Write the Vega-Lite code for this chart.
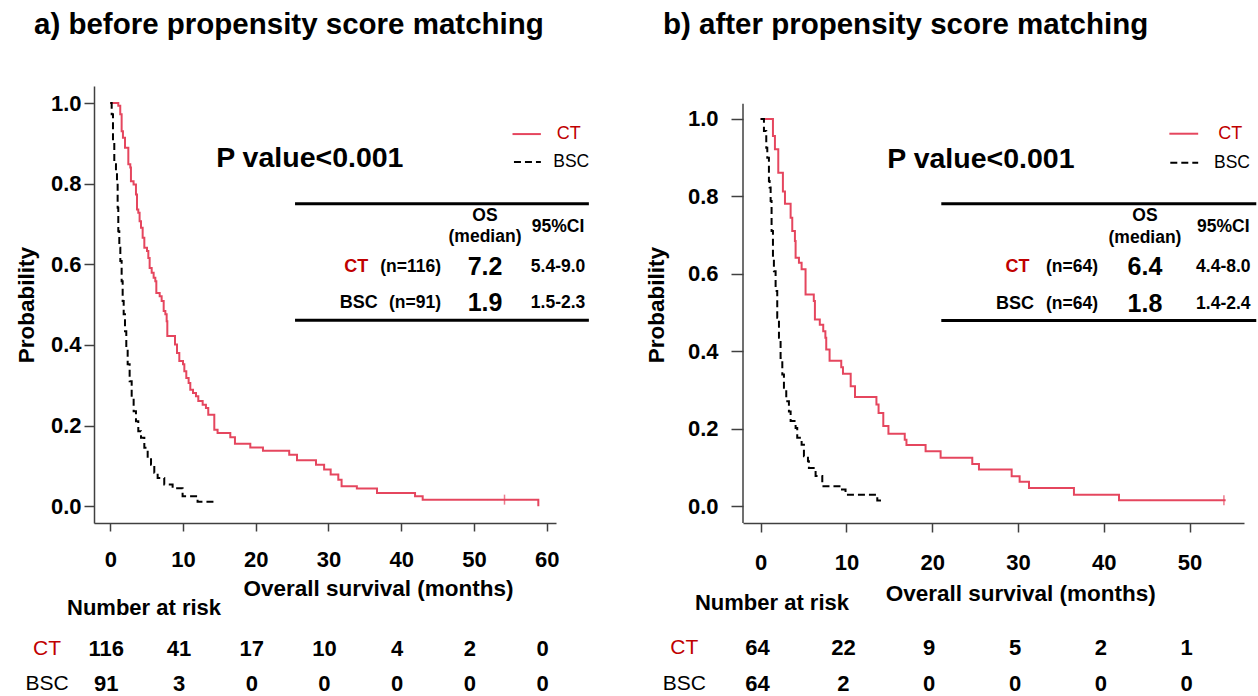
{
  "$schema": "https://vega.github.io/schema/vega-lite/v6.json",
  "background": "white",
  "padding": {"left": 15, "top": 9, "right": 0, "bottom": 0},
  "spacing": 54,
  "config": {
    "font": "Liberation Sans",
    "view": {"stroke": null},
    "title": {"font": "Liberation Sans", "fontSize": 29.5, "fontWeight": "bold", "color": "black"},
    "axis": {"grid": false, "domainColor": "#404040", "domainWidth": 1.5, "tickColor": "#404040", "tickWidth": 1.5,
      "labelFont": "Liberation Sans", "labelFontSize": 22, "labelFontWeight": "bold", "labelColor": "black",
      "titleFont": "Liberation Sans", "titleFontSize": 22.5, "titleFontWeight": "bold", "titleColor": "black",
      "labelFlush": false, "labelOverlap": false},
    "text": {"font": "Liberation Sans", "color": "black"}
  },
  "datasets": {
    "one": [{}],
    "kmA": [
      {"group": "CT", "time": 0, "surv": 1.0},
      {"group": "CT", "time": 1.1, "surv": 0.993},
      {"group": "CT", "time": 1.37, "surv": 0.972},
      {"group": "CT", "time": 1.56, "surv": 0.93},
      {"group": "CT", "time": 1.74, "surv": 0.914},
      {"group": "CT", "time": 2.02, "surv": 0.889},
      {"group": "CT", "time": 2.48, "surv": 0.848},
      {"group": "CT", "time": 2.75, "surv": 0.84},
      {"group": "CT", "time": 2.84, "surv": 0.806},
      {"group": "CT", "time": 3.2, "surv": 0.798},
      {"group": "CT", "time": 3.53, "surv": 0.773},
      {"group": "CT", "time": 3.67, "surv": 0.736},
      {"group": "CT", "time": 3.85, "surv": 0.728},
      {"group": "CT", "time": 4.03, "surv": 0.707},
      {"group": "CT", "time": 4.22, "surv": 0.691},
      {"group": "CT", "time": 4.45, "surv": 0.666},
      {"group": "CT", "time": 4.68, "surv": 0.641},
      {"group": "CT", "time": 5.05, "surv": 0.633},
      {"group": "CT", "time": 5.23, "surv": 0.616},
      {"group": "CT", "time": 5.41, "surv": 0.591},
      {"group": "CT", "time": 5.69, "surv": 0.579},
      {"group": "CT", "time": 5.96, "surv": 0.567},
      {"group": "CT", "time": 6.19, "surv": 0.558},
      {"group": "CT", "time": 6.33, "surv": 0.529},
      {"group": "CT", "time": 6.79, "surv": 0.521},
      {"group": "CT", "time": 7.06, "surv": 0.509},
      {"group": "CT", "time": 7.34, "surv": 0.484},
      {"group": "CT", "time": 7.57, "surv": 0.476},
      {"group": "CT", "time": 7.75, "surv": 0.459},
      {"group": "CT", "time": 7.84, "surv": 0.422},
      {"group": "CT", "time": 8.9, "surv": 0.401},
      {"group": "CT", "time": 9.17, "surv": 0.38},
      {"group": "CT", "time": 9.49, "surv": 0.36},
      {"group": "CT", "time": 10.0, "surv": 0.352},
      {"group": "CT", "time": 10.18, "surv": 0.335},
      {"group": "CT", "time": 10.45, "surv": 0.318},
      {"group": "CT", "time": 10.77, "surv": 0.306},
      {"group": "CT", "time": 11.0, "surv": 0.289},
      {"group": "CT", "time": 11.37, "surv": 0.281},
      {"group": "CT", "time": 11.78, "surv": 0.273},
      {"group": "CT", "time": 12.1, "surv": 0.261},
      {"group": "CT", "time": 12.7, "surv": 0.252},
      {"group": "CT", "time": 13.15, "surv": 0.244},
      {"group": "CT", "time": 13.47, "surv": 0.227},
      {"group": "CT", "time": 14.3, "surv": 0.19},
      {"group": "CT", "time": 14.75, "surv": 0.182},
      {"group": "CT", "time": 16.5, "surv": 0.171},
      {"group": "CT", "time": 17.14, "surv": 0.155},
      {"group": "CT", "time": 19.25, "surv": 0.146},
      {"group": "CT", "time": 20.99, "surv": 0.138},
      {"group": "CT", "time": 24.6, "surv": 0.128},
      {"group": "CT", "time": 25.67, "surv": 0.114},
      {"group": "CT", "time": 28.28, "surv": 0.103},
      {"group": "CT", "time": 29.4, "surv": 0.091},
      {"group": "CT", "time": 30.3, "surv": 0.079},
      {"group": "CT", "time": 31.35, "surv": 0.066},
      {"group": "CT", "time": 31.8, "surv": 0.05},
      {"group": "CT", "time": 33.9, "surv": 0.044},
      {"group": "CT", "time": 36.67, "surv": 0.033},
      {"group": "CT", "time": 41.9, "surv": 0.025},
      {"group": "CT", "time": 42.95, "surv": 0.0165},
      {"group": "CT", "time": 58.85, "surv": 0.0},
      {"group": "BSC", "time": 0, "surv": 1.0},
      {"group": "BSC", "time": 0.19, "surv": 0.972},
      {"group": "BSC", "time": 0.37, "surv": 0.906},
      {"group": "BSC", "time": 0.55, "surv": 0.848},
      {"group": "BSC", "time": 0.78, "surv": 0.831},
      {"group": "BSC", "time": 0.92, "surv": 0.806},
      {"group": "BSC", "time": 1.01, "surv": 0.74},
      {"group": "BSC", "time": 1.1, "surv": 0.682},
      {"group": "BSC", "time": 1.24, "surv": 0.641},
      {"group": "BSC", "time": 1.38, "surv": 0.608},
      {"group": "BSC", "time": 1.56, "surv": 0.558},
      {"group": "BSC", "time": 1.7, "surv": 0.509},
      {"group": "BSC", "time": 1.84, "surv": 0.476},
      {"group": "BSC", "time": 2.02, "surv": 0.434},
      {"group": "BSC", "time": 2.2, "surv": 0.393},
      {"group": "BSC", "time": 2.39, "surv": 0.352},
      {"group": "BSC", "time": 2.66, "surv": 0.31},
      {"group": "BSC", "time": 2.94, "surv": 0.269},
      {"group": "BSC", "time": 3.21, "surv": 0.236},
      {"group": "BSC", "time": 3.53, "surv": 0.211},
      {"group": "BSC", "time": 3.85, "surv": 0.186},
      {"group": "BSC", "time": 4.22, "surv": 0.17},
      {"group": "BSC", "time": 4.68, "surv": 0.145},
      {"group": "BSC", "time": 5.14, "surv": 0.12},
      {"group": "BSC", "time": 5.6, "surv": 0.103},
      {"group": "BSC", "time": 6.05, "surv": 0.083},
      {"group": "BSC", "time": 6.51, "surv": 0.07},
      {"group": "BSC", "time": 7.42, "surv": 0.054},
      {"group": "BSC", "time": 8.57, "surv": 0.045},
      {"group": "BSC", "time": 9.94, "surv": 0.025},
      {"group": "BSC", "time": 12.0, "surv": 0.011},
      {"group": "BSC", "time": 14.3, "surv": 0.011}
    ],
    "censA": [{"group": "CT", "time": 54.2, "surv": 0.0165}],
    "riskA": [
      {"group": "CT", "time": 0, "n": 116}, {"group": "CT", "time": 10, "n": 41}, {"group": "CT", "time": 20, "n": 17},
      {"group": "CT", "time": 30, "n": 10}, {"group": "CT", "time": 40, "n": 4}, {"group": "CT", "time": 50, "n": 2},
      {"group": "CT", "time": 60, "n": 0},
      {"group": "BSC", "time": 0, "n": 91}, {"group": "BSC", "time": 10, "n": 3}, {"group": "BSC", "time": 20, "n": 0},
      {"group": "BSC", "time": 30, "n": 0}, {"group": "BSC", "time": 40, "n": 0}, {"group": "BSC", "time": 50, "n": 0},
      {"group": "BSC", "time": 60, "n": 0}
    ],
    "kmB": [
      {"group": "CT", "time": 0, "surv": 1.0},
      {"group": "CT", "time": 1.44, "surv": 0.956},
      {"group": "CT", "time": 1.67, "surv": 0.922},
      {"group": "CT", "time": 2.06, "surv": 0.861},
      {"group": "CT", "time": 2.6, "surv": 0.813},
      {"group": "CT", "time": 2.84, "surv": 0.781},
      {"group": "CT", "time": 3.5, "surv": 0.745},
      {"group": "CT", "time": 3.69, "surv": 0.711},
      {"group": "CT", "time": 4.0, "surv": 0.685},
      {"group": "CT", "time": 4.08, "surv": 0.642},
      {"group": "CT", "time": 4.47, "surv": 0.629},
      {"group": "CT", "time": 4.78, "surv": 0.612},
      {"group": "CT", "time": 5.24, "surv": 0.547},
      {"group": "CT", "time": 6.2, "surv": 0.53},
      {"group": "CT", "time": 6.33, "surv": 0.482},
      {"group": "CT", "time": 6.9, "surv": 0.469},
      {"group": "CT", "time": 7.3, "surv": 0.452},
      {"group": "CT", "time": 7.55, "surv": 0.435},
      {"group": "CT", "time": 7.65, "surv": 0.405},
      {"group": "CT", "time": 8.04, "surv": 0.376},
      {"group": "CT", "time": 9.4, "surv": 0.359},
      {"group": "CT", "time": 9.6, "surv": 0.342},
      {"group": "CT", "time": 10.5, "surv": 0.31},
      {"group": "CT", "time": 11.0, "surv": 0.282},
      {"group": "CT", "time": 13.5, "surv": 0.263},
      {"group": "CT", "time": 13.75, "surv": 0.241},
      {"group": "CT", "time": 14.3, "surv": 0.207},
      {"group": "CT", "time": 14.9, "surv": 0.187},
      {"group": "CT", "time": 16.8, "surv": 0.172},
      {"group": "CT", "time": 17.0, "surv": 0.158},
      {"group": "CT", "time": 19.23, "surv": 0.142},
      {"group": "CT", "time": 20.98, "surv": 0.125},
      {"group": "CT", "time": 24.67, "surv": 0.109},
      {"group": "CT", "time": 25.45, "surv": 0.095},
      {"group": "CT", "time": 29.26, "surv": 0.0775},
      {"group": "CT", "time": 30.19, "surv": 0.063},
      {"group": "CT", "time": 31.28, "surv": 0.047},
      {"group": "CT", "time": 36.52, "surv": 0.03},
      {"group": "CT", "time": 41.77, "surv": 0.0156},
      {"group": "CT", "time": 54.2, "surv": 0.0156},
      {"group": "BSC", "time": 0, "surv": 1.0},
      {"group": "BSC", "time": 0.39, "surv": 0.969},
      {"group": "BSC", "time": 0.66, "surv": 0.926},
      {"group": "BSC", "time": 0.78, "surv": 0.9},
      {"group": "BSC", "time": 0.97, "surv": 0.84},
      {"group": "BSC", "time": 1.05, "surv": 0.823},
      {"group": "BSC", "time": 1.17, "surv": 0.788},
      {"group": "BSC", "time": 1.28, "surv": 0.711},
      {"group": "BSC", "time": 1.44, "surv": 0.642},
      {"group": "BSC", "time": 1.55, "surv": 0.607},
      {"group": "BSC", "time": 1.75, "surv": 0.556},
      {"group": "BSC", "time": 1.94, "surv": 0.487},
      {"group": "BSC", "time": 2.14, "surv": 0.435},
      {"group": "BSC", "time": 2.33, "surv": 0.383},
      {"group": "BSC", "time": 2.53, "surv": 0.34},
      {"group": "BSC", "time": 2.72, "surv": 0.306},
      {"group": "BSC", "time": 2.99, "surv": 0.271},
      {"group": "BSC", "time": 3.3, "surv": 0.245},
      {"group": "BSC", "time": 3.5, "surv": 0.22},
      {"group": "BSC", "time": 4.08, "surv": 0.202},
      {"group": "BSC", "time": 4.27, "surv": 0.177},
      {"group": "BSC", "time": 4.78, "surv": 0.159},
      {"group": "BSC", "time": 5.05, "surv": 0.129},
      {"group": "BSC", "time": 5.52, "surv": 0.116},
      {"group": "BSC", "time": 5.63, "surv": 0.099},
      {"group": "BSC", "time": 6.41, "surv": 0.078},
      {"group": "BSC", "time": 7.19, "surv": 0.052},
      {"group": "BSC", "time": 9.32, "surv": 0.043},
      {"group": "BSC", "time": 9.9, "surv": 0.03},
      {"group": "BSC", "time": 13.6, "surv": 0.0146},
      {"group": "BSC", "time": 14.37, "surv": 0.0146}
    ],
    "censB": [{"group": "CT", "time": 54.0, "surv": 0.0156}],
    "riskB": [
      {"group": "CT", "time": 0, "n": 64}, {"group": "CT", "time": 10, "n": 22}, {"group": "CT", "time": 20, "n": 9},
      {"group": "CT", "time": 30, "n": 5}, {"group": "CT", "time": 40, "n": 2}, {"group": "CT", "time": 50, "n": 1},
      {"group": "BSC", "time": 0, "n": 64}, {"group": "BSC", "time": 10, "n": 2}, {"group": "BSC", "time": 20, "n": 0},
      {"group": "BSC", "time": 30, "n": 0}, {"group": "BSC", "time": 40, "n": 0}, {"group": "BSC", "time": 50, "n": 0}
    ]
  },
  "hconcat": [
    {
      "width": 462,
      "height": 437,
      "title": {"text": "a) before propensity score matching", "anchor": "start", "frame": "group", "dx": -60, "offset": 45.7},
      "layer": [
        {
          "data": {"name": "kmA"},
          "mark": {"type": "line", "interpolate": "step-after", "strokeWidth": 2},
          "encoding": {
            "x": {"field": "time", "type": "quantitative", "scale": {"domain": [-2.24, 61.28], "nice": false, "zero": false},
              "axis": {"title": "Overall survival (months)", "values": [0, 10, 20, 30, 40, 50, 60], "format": "d", "tickSize": 8, "labelPadding": 18,
                "titleX": 284, "titleY": 65, "titleBaseline": "middle", "titleAlign": "center"}},
            "y": {"field": "surv", "type": "quantitative", "scale": {"domain": [-0.0414, 1.0422], "nice": false, "zero": false},
              "axis": {"title": "Probability", "values": [0, 0.2, 0.4, 0.6, 0.8, 1], "format": ".1f", "tickSize": 10, "labelPadding": 3,
                "minExtent": 44, "maxExtent": 44, "titlePadding": 12}},
            "color": {"field": "group", "type": "nominal", "scale": {"domain": ["CT", "BSC"], "range": ["#e5465e", "#000000"]}, "legend": null},
            "strokeDash": {"field": "group", "type": "nominal", "scale": {"domain": ["CT", "BSC"], "range": [[1, 0], [7, 4]]}, "legend": null}
          }
        },
        {
          "data": {"name": "censA"},
          "mark": {"type": "point", "shape": "M0,-1L0,1", "size": 100, "filled": false, "color": "#e5465e", "strokeWidth": 1.5},
          "encoding": {"x": {"field": "time", "type": "quantitative"}, "y": {"field": "surv", "type": "quantitative"}}
        },
        {"data": {"name": "one"}, "mark": {"type": "rule", "color": "#e5465e", "strokeWidth": 2},
          "encoding": {"x": {"datum": 55.3}, "x2": {"datum": 59.2}, "y": {"datum": 0.923}}},
        {"data": {"name": "one"}, "mark": {"type": "rule", "color": "black", "strokeWidth": 2, "strokeDash": [7, 4]},
          "encoding": {"x": {"datum": 55.5}, "x2": {"datum": 59.2}, "y": {"datum": 0.854}}},
        {"data": {"name": "one"}, "mark": {"type": "text", "text": "CT", "fontSize": 18, "color": "#c00000", "align": "left", "baseline": "middle"},
          "encoding": {"x": {"datum": 61.4}, "y": {"datum": 0.923}}},
        {"data": {"name": "one"}, "mark": {"type": "text", "text": "BSC", "fontSize": 17.5, "align": "left", "baseline": "middle"},
          "encoding": {"x": {"datum": 60.9}, "y": {"datum": 0.854}}},
        {"data": {"name": "one"}, "mark": {"type": "text", "text": "P value<0.001", "fontSize": 28.5, "fontWeight": "bold", "align": "left", "baseline": "middle"},
          "encoding": {"x": {"datum": 14.56}, "y": {"datum": 0.8635}}},
        {"data": {"name": "one"}, "mark": {"type": "rule", "color": "black", "strokeWidth": 3},
          "encoding": {"x": {"datum": 25.4}, "x2": {"datum": 65.8}, "y": {"datum": 0.75}}},
        {"data": {"name": "one"}, "mark": {"type": "rule", "color": "black", "strokeWidth": 3},
          "encoding": {"x": {"datum": 25.4}, "x2": {"datum": 65.8}, "y": {"datum": 0.4615}}},
        {"data": {"name": "one"}, "mark": {"type": "text", "text": "OS", "fontSize": 17.5, "fontWeight": "bold", "align": "center", "baseline": "middle"},
          "encoding": {"x": {"datum": 51.52}, "y": {"datum": 0.7196}}},
        {"data": {"name": "one"}, "mark": {"type": "text", "text": "(median)", "fontSize": 17.5, "fontWeight": "bold", "align": "center", "baseline": "middle"},
          "encoding": {"x": {"datum": 51.52}, "y": {"datum": 0.6675}}},
        {"data": {"name": "one"}, "mark": {"type": "text", "text": "95%CI", "fontSize": 17.5, "fontWeight": "bold", "align": "center", "baseline": "middle"},
          "encoding": {"x": {"datum": 61.56}, "y": {"datum": 0.6923}}},
        {"data": {"name": "one"}, "mark": {"type": "text", "text": "CT", "fontSize": 18, "fontWeight": "bold", "color": "#c00000", "align": "right", "baseline": "middle"},
          "encoding": {"x": {"datum": 35.47}, "y": {"datum": 0.593}}},
        {"data": {"name": "one"}, "mark": {"type": "text", "text": "(n=116)", "fontSize": 17.5, "fontWeight": "bold", "align": "right", "baseline": "middle"},
          "encoding": {"x": {"datum": 45.47}, "y": {"datum": 0.593}}},
        {"data": {"name": "one"}, "mark": {"type": "text", "text": "7.2", "fontSize": 25, "fontWeight": "bold", "align": "center", "baseline": "middle"},
          "encoding": {"x": {"datum": 51.52}, "y": {"datum": 0.593}}},
        {"data": {"name": "one"}, "mark": {"type": "text", "text": "5.4-9.0", "fontSize": 17.5, "fontWeight": "bold", "align": "center", "baseline": "middle"},
          "encoding": {"x": {"datum": 61.56}, "y": {"datum": 0.593}}},
        {"data": {"name": "one"}, "mark": {"type": "text", "text": "BSC", "fontSize": 18, "fontWeight": "bold", "align": "right", "baseline": "middle"},
          "encoding": {"x": {"datum": 36.77}, "y": {"datum": 0.5037}}},
        {"data": {"name": "one"}, "mark": {"type": "text", "text": "(n=91)", "fontSize": 17.5, "fontWeight": "bold", "align": "right", "baseline": "middle"},
          "encoding": {"x": {"datum": 45.47}, "y": {"datum": 0.5037}}},
        {"data": {"name": "one"}, "mark": {"type": "text", "text": "1.9", "fontSize": 25, "fontWeight": "bold", "align": "center", "baseline": "middle"},
          "encoding": {"x": {"datum": 51.52}, "y": {"datum": 0.5037}}},
        {"data": {"name": "one"}, "mark": {"type": "text", "text": "1.5-2.3", "fontSize": 17.5, "fontWeight": "bold", "align": "center", "baseline": "middle"},
          "encoding": {"x": {"datum": 61.56}, "y": {"datum": 0.5037}}},
        {"data": {"name": "one"}, "mark": {"type": "text", "text": "Number at risk", "fontSize": 22, "fontWeight": "bold", "align": "left", "baseline": "middle"},
          "encoding": {"x": {"datum": -5.95}, "y": {"datum": -0.253}}},
        {"data": {"name": "one"}, "mark": {"type": "text", "text": "CT", "fontSize": 21, "color": "#c00000", "align": "center", "baseline": "middle"},
          "encoding": {"x": {"datum": -8.7}, "y": {"datum": -0.3548}}},
        {"data": {"name": "one"}, "mark": {"type": "text", "text": "BSC", "fontSize": 21, "align": "center", "baseline": "middle"},
          "encoding": {"x": {"datum": -8.7}, "y": {"datum": -0.4417}}},
        {"data": {"name": "riskA"}, "transform": [{"filter": "datum.group === 'CT'"}],
          "mark": {"type": "text", "fontSize": 22, "fontWeight": "bold", "dx": -4, "baseline": "middle"},
          "encoding": {"x": {"field": "time", "type": "quantitative"}, "y": {"datum": -0.3548}, "text": {"field": "n", "type": "quantitative", "format": "d"}}},
        {"data": {"name": "riskA"}, "transform": [{"filter": "datum.group === 'BSC'"}],
          "mark": {"type": "text", "fontSize": 22, "fontWeight": "bold", "dx": -4, "baseline": "middle"},
          "encoding": {"x": {"field": "time", "type": "quantitative"}, "y": {"datum": -0.4417}, "text": {"field": "n", "type": "quantitative", "format": "d"}}}
      ]
    },
    {
      "width": 501,
      "height": 437,
      "title": {"text": "b) after propensity score matching", "anchor": "start", "frame": "group", "dx": -80, "offset": 45.7},
      "layer": [
        {
          "data": {"name": "kmB"},
          "mark": {"type": "line", "interpolate": "step-after", "strokeWidth": 2},
          "encoding": {
            "x": {"field": "time", "type": "quantitative", "scale": {"domain": [-2.051, 56.34], "nice": false, "zero": false},
              "axis": {"title": "Overall survival (months)", "values": [0, 10, 20, 30, 40, 50], "format": "d", "tickSize": 9, "labelPadding": 20,
                "titleX": 277.3, "titleY": 70, "titleBaseline": "middle", "titleAlign": "center"}},
            "y": {"field": "surv", "type": "quantitative", "scale": {"domain": [-0.0432, 1.0852], "nice": false, "zero": false},
              "axis": {"title": "Probability", "values": [0, 0.2, 0.4, 0.6, 0.8, 1], "format": ".1f", "tickSize": 12, "labelPadding": 13,
                "minExtent": 56, "maxExtent": 56, "titlePadding": 19, "domain": false}},
            "color": {"field": "group", "type": "nominal", "scale": {"domain": ["CT", "BSC"], "range": ["#e5465e", "#000000"]}, "legend": null},
            "strokeDash": {"field": "group", "type": "nominal", "scale": {"domain": ["CT", "BSC"], "range": [[1, 0], [7, 4]]}, "legend": null}
          }
        },
        {"data": {"name": "one"}, "mark": {"type": "rule", "color": "#404040", "strokeWidth": 1.5},
          "encoding": {"x": {"datum": -2.051}, "y": {"datum": -0.0432}, "y2": {"datum": 1.0395}}},
        {
          "data": {"name": "censB"},
          "mark": {"type": "point", "shape": "M0,-1L0,1", "size": 100, "filled": false, "color": "#e5465e", "strokeWidth": 1.5},
          "encoding": {"x": {"field": "time", "type": "quantitative"}, "y": {"field": "surv", "type": "quantitative"}}
        },
        {"data": {"name": "one"}, "mark": {"type": "rule", "color": "#e5465e", "strokeWidth": 2},
          "encoding": {"x": {"datum": 47.64}, "x2": {"datum": 51.0}, "y": {"datum": 0.962}}},
        {"data": {"name": "one"}, "mark": {"type": "rule", "color": "black", "strokeWidth": 2, "strokeDash": [7, 4]},
          "encoding": {"x": {"datum": 47.75}, "x2": {"datum": 51.0}, "y": {"datum": 0.887}}},
        {"data": {"name": "one"}, "mark": {"type": "text", "text": "CT", "fontSize": 18, "color": "#c00000", "align": "left", "baseline": "middle"},
          "encoding": {"x": {"datum": 53.35}, "y": {"datum": 0.962}}},
        {"data": {"name": "one"}, "mark": {"type": "text", "text": "BSC", "fontSize": 17.5, "align": "left", "baseline": "middle"},
          "encoding": {"x": {"datum": 52.84}, "y": {"datum": 0.887}}},
        {"data": {"name": "one"}, "mark": {"type": "text", "text": "P value<0.001", "fontSize": 28.5, "fontWeight": "bold", "align": "left", "baseline": "middle"},
          "encoding": {"x": {"datum": 14.76}, "y": {"datum": 0.8966}}},
        {"data": {"name": "one"}, "mark": {"type": "rule", "color": "black", "strokeWidth": 3},
          "encoding": {"x": {"datum": 21.06}, "x2": {"datum": 57.77}, "y": {"datum": 0.7811}}},
        {"data": {"name": "one"}, "mark": {"type": "rule", "color": "black", "strokeWidth": 3},
          "encoding": {"x": {"datum": 21.06}, "x2": {"datum": 57.77}, "y": {"datum": 0.4798}}},
        {"data": {"name": "one"}, "mark": {"type": "text", "text": "OS", "fontSize": 17.5, "fontWeight": "bold", "align": "center", "baseline": "middle"},
          "encoding": {"x": {"datum": 44.8}, "y": {"datum": 0.7494}}},
        {"data": {"name": "one"}, "mark": {"type": "text", "text": "(median)", "fontSize": 17.5, "fontWeight": "bold", "align": "center", "baseline": "middle"},
          "encoding": {"x": {"datum": 44.8}, "y": {"datum": 0.6933}}},
        {"data": {"name": "one"}, "mark": {"type": "text", "text": "95%CI", "fontSize": 17.5, "fontWeight": "bold", "align": "center", "baseline": "middle"},
          "encoding": {"x": {"datum": 53.93}, "y": {"datum": 0.7209}}},
        {"data": {"name": "one"}, "mark": {"type": "text", "text": "CT", "fontSize": 18, "fontWeight": "bold", "color": "#c00000", "align": "right", "baseline": "middle"},
          "encoding": {"x": {"datum": 31.35}, "y": {"datum": 0.6176}}},
        {"data": {"name": "one"}, "mark": {"type": "text", "text": "(n=64)", "fontSize": 17.5, "fontWeight": "bold", "align": "right", "baseline": "middle"},
          "encoding": {"x": {"datum": 39.32}, "y": {"datum": 0.6176}}},
        {"data": {"name": "one"}, "mark": {"type": "text", "text": "6.4", "fontSize": 25, "fontWeight": "bold", "align": "center", "baseline": "middle"},
          "encoding": {"x": {"datum": 44.8}, "y": {"datum": 0.6176}}},
        {"data": {"name": "one"}, "mark": {"type": "text", "text": "4.4-8.0", "fontSize": 17.5, "fontWeight": "bold", "align": "center", "baseline": "middle"},
          "encoding": {"x": {"datum": 53.93}, "y": {"datum": 0.6176}}},
        {"data": {"name": "one"}, "mark": {"type": "text", "text": "BSC", "fontSize": 18, "fontWeight": "bold", "align": "right", "baseline": "middle"},
          "encoding": {"x": {"datum": 31.86}, "y": {"datum": 0.5227}}},
        {"data": {"name": "one"}, "mark": {"type": "text", "text": "(n=64)", "fontSize": 17.5, "fontWeight": "bold", "align": "right", "baseline": "middle"},
          "encoding": {"x": {"datum": 39.32}, "y": {"datum": 0.5227}}},
        {"data": {"name": "one"}, "mark": {"type": "text", "text": "1.8", "fontSize": 25, "fontWeight": "bold", "align": "center", "baseline": "middle"},
          "encoding": {"x": {"datum": 44.8}, "y": {"datum": 0.5227}}},
        {"data": {"name": "one"}, "mark": {"type": "text", "text": "1.4-2.4", "fontSize": 17.5, "fontWeight": "bold", "align": "center", "baseline": "middle"},
          "encoding": {"x": {"datum": 53.93}, "y": {"datum": 0.5227}}},
        {"data": {"name": "one"}, "mark": {"type": "text", "text": "Number at risk", "fontSize": 22, "fontWeight": "bold", "align": "left", "baseline": "middle"},
          "encoding": {"x": {"datum": -7.65}, "y": {"datum": -0.2502}}},
        {"data": {"name": "one"}, "mark": {"type": "text", "text": "CT", "fontSize": 21, "color": "#c00000", "align": "center", "baseline": "middle"},
          "encoding": {"x": {"datum": -8.9}, "y": {"datum": -0.3661}}},
        {"data": {"name": "one"}, "mark": {"type": "text", "text": "BSC", "fontSize": 21, "align": "center", "baseline": "middle"},
          "encoding": {"x": {"datum": -8.9}, "y": {"datum": -0.46}}},
        {"data": {"name": "riskB"}, "transform": [{"filter": "datum.group === 'CT'"}],
          "mark": {"type": "text", "fontSize": 22, "fontWeight": "bold", "dx": -3, "baseline": "middle"},
          "encoding": {"x": {"field": "time", "type": "quantitative"}, "y": {"datum": -0.3661}, "text": {"field": "n", "type": "quantitative", "format": "d"}}},
        {"data": {"name": "riskB"}, "transform": [{"filter": "datum.group === 'BSC'"}],
          "mark": {"type": "text", "fontSize": 22, "fontWeight": "bold", "dx": -3, "baseline": "middle"},
          "encoding": {"x": {"field": "time", "type": "quantitative"}, "y": {"datum": -0.46}, "text": {"field": "n", "type": "quantitative", "format": "d"}}}
      ]
    }
  ]
}
